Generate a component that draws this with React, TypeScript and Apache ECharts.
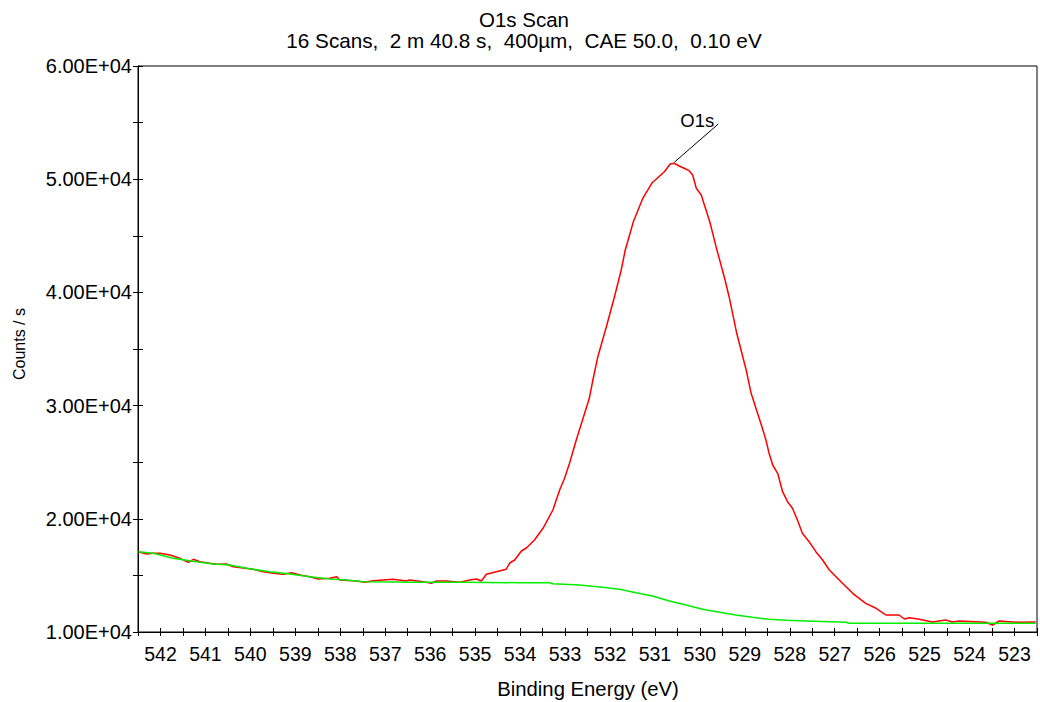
import React, { useEffect, useRef } from "react";
import * as echarts from "echarts";

// Measured spectrum (binding energy in eV, counts / s)
const rawEnergy = [
  542.49, 542.31, 542.16, 542.01, 541.79, 541.57, 541.38, 541.27, 541.12, 540.9,
  540.75, 540.53, 540.38, 539.94, 539.72, 539.49, 539.27, 539.08, 538.9, 538.68,
  538.49, 538.23, 538.08, 538.01, 537.64, 537.46, 537.27, 536.83, 536.53, 536.46,
  536.16, 535.97, 535.86, 535.64, 535.34, 535.12, 534.97, 534.86, 534.75, 534.53,
  534.31, 534.23, 534.12, 533.97, 533.86, 533.68, 533.49, 533.27, 533.12, 533.01,
  532.9, 532.75, 532.68, 532.46, 532.38, 532.27, 532.08, 531.9, 531.75, 531.66,
  531.48, 531.27, 531.06, 530.79, 530.66, 530.57, 530.46, 530.35, 530.24, 530.16,
  530.08, 529.97, 529.78, 529.64, 529.44, 529.35, 529.18, 528.97, 528.86, 528.62,
  528.53, 528.46, 528.38, 528.27, 528.16, 528.05, 527.94, 527.83, 527.72, 527.57,
  527.42, 527.27, 527.12, 526.9, 526.6, 526.31, 526.08, 525.86, 525.57, 525.45,
  525.34, 525.12, 524.83, 524.53, 524.38, 524.23, 523.64, 523.49, 523.34, 522.97,
  522.53,
];
const rawCounts = [
  17094, 16890, 16952, 16952, 16802, 16510, 16157, 16422, 16210, 16069,
  15980, 16007, 15769, 15539, 15327, 15186, 15097, 15239, 15036, 14885,
  14682, 14744, 14885, 14594, 14505, 14390, 14532, 14655, 14505, 14594,
  14443, 14302, 14505, 14505, 14390, 14594, 14682, 14505, 15097, 15327,
  15539, 16095, 16360, 17155, 17421, 18127, 19161, 20777, 22544, 23578,
  24902, 26961, 27845, 30645, 32262, 34320, 36970, 39620, 41980, 43746,
  46246, 48313, 49692, 50663, 51343, 51405, 51167, 50963, 50751, 50372,
  49196, 48605, 46246, 44038, 41096, 39620, 36387, 33145, 31087, 28136,
  26961, 25786, 24753, 24019, 22394, 21510, 20928, 19894, 18719, 17977,
  17094, 16360, 15477, 14594, 13419, 12535, 12094, 11502, 11502, 11148,
  11263, 11122, 10883, 11060, 10883, 10972, 10857, 10618, 10972, 10857,
  10883,
];

// Background (green) curve
const bgEnergy = [
  542.49, 542.16, 541.72, 541.2, 540.83, 540.46, 540.08, 539.57, 539.12, 538.68,
  538.23, 537.86, 537.49, 536.75, 536.38, 535.28, 534.0, 533.34, 533.27, 532.68,
  532.16, 531.79, 531.42, 531.05, 530.68, 530.31, 529.94, 529.56, 529.2, 528.83,
  528.46, 528.08, 527.64, 526.75, 526.68, 522.53,
];
const bgCounts = [
  17094, 16952, 16510, 16210, 16007, 15919, 15627, 15327, 15124, 14885,
  14682, 14594, 14443, 14420, 14390, 14390, 14355, 14355, 14267, 14152,
  13949, 13772, 13472, 13180, 12739, 12385, 12005, 11740, 11502, 11299,
  11122, 11034, 10972, 10857, 10769, 10769,
];

// Peak annotation
const peakName = "O1s";
const peakTop = [530.57, 51493];
const peakLabelEnd = [529.59, 54877];

const titleText = "O1s Scan";
const subtitleText = "16 Scans,  2 m 40.8 s,  400µm,  CAE 50.0,  0.10 eV";
const xName = "Binding Energy (eV)";
const yName = "Counts / s";

const FONT = "'Liberation Sans', Arial, sans-serif";

export default function App() {
  const ref = useRef<HTMLDivElement>(null);

  useEffect(() => {
    if (!ref.current) return;
    const chart = echarts.init(ref.current, null, { renderer: "svg" });
    const rawData = rawEnergy.map((e, i) => [e, rawCounts[i]]);
    const bgData = bgEnergy.map((e, i) => [e, bgCounts[i]]);

    const xBase = {
      type: "value",
      min: 522.5,
      max: 542.5,
      interval: 0.5,
      inverse: true,
      position: "bottom",
      splitLine: { show: false },
    };
    const yBase = {
      type: "value",
      min: 10000,
      max: 60000,
      interval: 5000,
      position: "left",
      splitLine: { show: false },
    };

    chart.setOption({
      animation: false,
      backgroundColor: "#ffffff",
      grid: {
        left: 138,
        right: 2,
        top: 66,
        bottom: 70,
        show: true,
        borderColor: "#000",
        borderWidth: 1,
        backgroundColor: "transparent",
      },
      xAxis: [
        {
          ...xBase,
          axisLine: { show: true, lineStyle: { color: "#000", width: 1 } },
          axisTick: { show: true, inside: false, length: 4, lineStyle: { color: "#000" } },
          axisLabel: {
            show: true,
            margin: 12,
            color: "#000",
            fontSize: 19.5,
            fontFamily: FONT,
            formatter: (v: number) => (Number.isInteger(v) ? String(v) : ""),
          },
        },
        {
          ...xBase,
          axisLine: { show: false },
          axisTick: { show: true, inside: true, length: 4, lineStyle: { color: "#000" } },
          axisLabel: { show: false },
        },
      ],
      yAxis: [
        {
          ...yBase,
          axisLine: { show: true, lineStyle: { color: "#000", width: 1 } },
          axisTick: { show: true, inside: false, length: 5, lineStyle: { color: "#000" } },
          axisLabel: {
            show: true,
            margin: 6,
            color: "#000",
            fontSize: 20,
            fontFamily: FONT,
            formatter: (v: number) =>
              v % 10000 === 0 ? (v / 10000).toFixed(2) + "E+04" : "",
          },
        },
        {
          ...yBase,
          axisLine: { show: false },
          axisTick: { show: true, inside: true, length: 5, lineStyle: { color: "#000" } },
          axisLabel: { show: false },
        },
      ],
      series: [
        {
          type: "line",
          xAxisIndex: 0,
          yAxisIndex: 0,
          data: rawData,
          showSymbol: false,
          symbol: "none",
          lineStyle: { color: "#ff0000", width: 1.5 },
          itemStyle: { color: "#ff0000" },
          z: 2,
          markLine: {
            silent: true,
            symbol: ["none", "none"],
            lineStyle: { color: "#000", width: 1, type: "solid" },
            label: { show: false },
            data: [[{ coord: peakTop }, { coord: peakLabelEnd }]],
          },
          markPoint: {
            silent: true,
            symbol: "circle",
            symbolSize: 0,
            itemStyle: { color: "transparent" },
            label: {
              show: true,
              position: "left",
              distance: 4,
              offset: [0, -3],
              color: "#000",
              fontSize: 18.5,
              fontFamily: FONT,
              formatter: peakName,
            },
            data: [{ coord: peakLabelEnd, value: 0 }],
          },
        },
        {
          type: "line",
          xAxisIndex: 0,
          yAxisIndex: 0,
          data: bgData,
          showSymbol: false,
          symbol: "none",
          lineStyle: { color: "#00ee00", width: 1.5 },
          itemStyle: { color: "#00ee00" },
          z: 3,
        },
      ],
      graphic: [
        {
          type: "text",
          x: 524,
          y: 19,
          style: {
            text: titleText,
            fill: "#000",
            font: `20.5px ${FONT}`,
            textAlign: "center",
            textVerticalAlign: "middle",
          },
        },
        {
          type: "text",
          x: 524,
          y: 40,
          style: {
            text: subtitleText,
            fill: "#000",
            font: `20.7px ${FONT}`,
            textAlign: "center",
            textVerticalAlign: "middle",
          },
        },
        {
          type: "text",
          x: 588,
          y: 689,
          style: {
            text: xName,
            fill: "#000",
            font: `20.3px ${FONT}`,
            textAlign: "center",
            textVerticalAlign: "middle",
          },
        },
        {
          type: "text",
          x: 19,
          y: 344,
          rotation: Math.PI / 2,
          style: {
            text: yName,
            fill: "#000",
            font: `16px ${FONT}`,
            textAlign: "center",
            textVerticalAlign: "middle",
          },
        },
      ],
    });
    return () => chart.dispose();
  }, []);

  return (
    <div
      ref={ref}
      style={{ position: "fixed", left: 0, top: 0, width: 1040, height: 702, background: "#fff" }}
    />
  );
}
